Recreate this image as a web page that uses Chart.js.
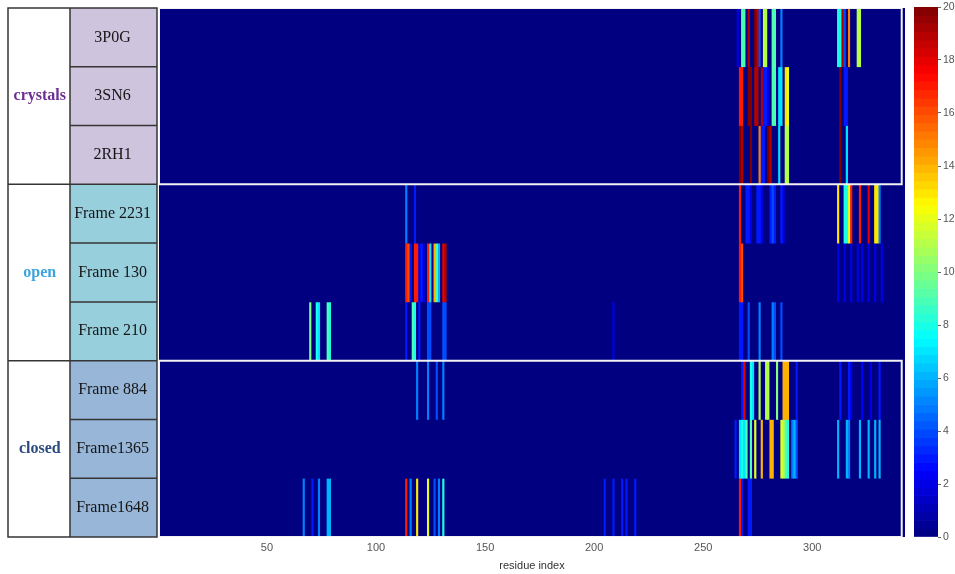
<!DOCTYPE html>
<html>
<head>
<meta charset="utf-8">
<script src="https://cdn.jsdelivr.net/npm/chart.js@4"></script>
<style>
    body { margin: 0; background: #fff; overflow: hidden; }
    #heat { position: absolute; left: 0; top: 0; }
    #cbar { position: absolute; left: 905px; top: 0; }
</style>
</head>
<body>
<canvas id="heat" width="905" height="574"></canvas>
<canvas id="cbar" width="50" height="574"></canvas>
<script>
const nResidues = 342;
const rowLabels = ['3P0G', '3SN6', '2RH1', 'Frame 2231', 'Frame 130', 'Frame 210', 'Frame 884', 'Frame1365', 'Frame1648'];
const groupLabels = ['crystals', 'open', 'closed'];
const groupOfRow = [0, 0, 0, 1, 1, 1, 2, 2, 2];
const groupCenterRows = [1, 4, 7];
const xTicks = [50, 100, 150, 200, 250, 300];
const cbarTicks = [0, 2, 4, 6, 8, 10, 12, 14, 16, 18, 20];

// [residue, value] pairs, every other residue is 0
const cells3P0G = [[266, 2], [268, 9], [269, 9], [271, 19], [274, 20], [275, 19], [276, 4], [278, 11], [279, 11], [282, 9],
    [283, 9], [286, 5], [312, 8], [313, 8], [314, 19], [315, 4], [317, 15], [321, 11], [322, 11]];
const cells3SN6 = [[267, 17], [268, 17], [271, 20], [272, 20], [274, 19], [275, 19], [277, 19], [278, 3], [279, 3], [280, 2],
    [282, 9], [283, 9], [285, 7], [286, 7], [288, 13], [289, 12], [313, 20], [315, 3], [316, 3]];
const cells2RH1 = [[267, 20], [268, 19], [272, 20], [276, 15], [277, 3], [278, 3], [280, 20], [281, 19], [285, 7],
    [288, 11], [289, 11], [313, 20], [316, 7]];
const cellsF2231 = [[114, 5], [118, 3], [267, 17], [270, 3], [271, 3], [272, 2], [275, 3], [276, 3], [277, 2], [281, 3],
    [282, 4], [283, 3], [286, 3], [287, 2], [312, 13], [315, 8], [316, 8], [317, 12], [318, 17], [322, 17], [326, 18],
    [329, 13], [330, 13], [331, 5]];
const cellsF130 = [[114, 17], [115, 16], [116, 3], [118, 17], [119, 17], [120, 2], [121, 3], [122, 2], [124, 17], [125, 7],
    [127, 14], [128, 9], [129, 6], [131, 18], [132, 19], [267, 17], [268, 16], [312, 2], [315, 2], [318, 2], [321, 2],
    [323, 2], [326, 2], [329, 2], [332, 2]];
const cellsF210 = [[70, 10], [73, 8], [74, 7], [78, 9], [79, 8], [114, 3], [117, 9], [118, 8], [120, 3], [124, 4], [125, 4],
    [131, 4], [132, 4], [209, 2], [267, 3], [268, 3], [271, 4], [276, 5], [282, 5], [283, 4], [286, 4]];
const cellsF884 = [[119, 5], [124, 5], [128, 4], [131, 5], [268, 3], [269, 18], [272, 8], [273, 7], [276, 11], [279, 11],
    [280, 11], [284, 10], [287, 14], [288, 14], [289, 14], [293, 3], [313, 3], [317, 3], [318, 2], [323, 2.5], [327, 2], [331, 3]];
const cellsF1365 = [[265, 3], [267, 7], [268, 8], [269, 7], [270, 9], [272, 9], [274, 12], [277, 14], [281, 14], [282, 14],
    [286, 12], [287, 11], [288, 9], [289, 8], [291, 5], [292, 6], [293, 4], [312, 6], [316, 6], [317, 5], [322, 6],
    [326, 6], [329, 6], [331, 6]];
const cellsF1648 = [[67, 5], [71, 3], [74, 5], [78, 6], [79, 6], [114, 17], [116, 5], [119, 13], [124, 12], [127, 4],
    [129, 5], [131, 8], [205, 3], [209, 3], [213, 3], [215, 3], [219, 3], [267, 17], [268, 3], [271, 3], [272, 3]];
const rowCells = [cells3P0G, cells3SN6, cells2RH1, cellsF2231, cellsF130, cellsF210, cellsF884, cellsF1365, cellsF1648];

const groupColors = ['#6b2f93', '#3da3dc', '#2d4b7e'];
const cellFill = ['#cec4dd', '#98cfdd', '#98b6d8'];
const serif = '"Liberation Serif", "Times New Roman", serif';
const sans = '"Liberation Sans", Arial, sans-serif';

function jet(v) {
    const t = Math.max(0, Math.min(1, v / 20));
    const c = x => Math.round(255 * Math.max(0, Math.min(1, x)));
    const r = c(Math.min(4 * t - 1.5, -4 * t + 4.5));
    const g = c(Math.min(4 * t - 0.5, -4 * t + 3.5));
    const b = c(Math.min(4 * t + 0.5, -4 * t + 2.5));
    return 'rgb(' + r + ',' + g + ',' + b + ')';
}

const heatDatasets = rowCells.map((cells, row) => {
    const values = new Array(nResidues).fill(0);
    cells.forEach(([res, val]) => { values[res - 1] = val; });
    return {
        type: 'bar',
        indexAxis: 'y',
        grouped: false,
        order: 2,
        data: values.map((val, k) => ({ x: [k + 0.5, k + 1.5], y: row, v: val })),
        backgroundColor: ctx => jet(ctx.raw.v),
        borderWidth: 0,
        barPercentage: 1,
        categoryPercentage: 1
    };
});

// white frames round the crystals and closed groups
const boxDatasets = [0, 2].map(g => {
    const first = groupOfRow.indexOf(g) - 0.5;
    const last = groupOfRow.lastIndexOf(g) + 0.5;
    const x0 = 0.5, x1 = nResidues - 1;
    return {
        type: 'line',
        order: 0,
        data: [{ x: x0, y: first }, { x: x1, y: first }, { x: x1, y: last }, { x: x0, y: last }, { x: x0, y: first }],
        borderColor: '#f2f2f2',
        borderWidth: 2,
        pointRadius: 0,
        fill: false,
        tension: 0
    };
});

const tablePlugin = {
    id: 'labelTable',
    beforeDraw(chart) {
        const { ctx, chartArea, scales: { y, yg } } = chart;
        ctx.save();
        ctx.fillStyle = jet(0);
        ctx.fillRect(chartArea.left, chartArea.top, chartArea.width, chartArea.height);

        const left = yg.left, mid = yg.right, right = y.right - 2;
        const top = y.getPixelForValue(-0.5), bottom = y.getPixelForValue(rowLabels.length - 0.5);
        ctx.fillStyle = '#fff';
        ctx.fillRect(left, top, right - left, bottom - top);
        rowLabels.forEach((_, i) => {
            const t = y.getPixelForValue(i - 0.5), b = y.getPixelForValue(i + 0.5);
            ctx.fillStyle = cellFill[groupOfRow[i]];
            ctx.fillRect(mid, t, right - mid, b - t);
        });

        ctx.strokeStyle = '#353535';
        ctx.lineWidth = 1.5;
        ctx.beginPath();
        rowLabels.forEach((_, i) => {
            if (i === 0) return;
            const t = y.getPixelForValue(i - 0.5);
            ctx.moveTo(groupOfRow[i] !== groupOfRow[i - 1] ? left : mid, t);
            ctx.lineTo(right, t);
        });
        ctx.moveTo(mid, top);
        ctx.lineTo(mid, bottom);
        ctx.rect(left, top, right - left, bottom - top);
        ctx.stroke();
        ctx.restore();
    }
};

new Chart(document.getElementById('heat'), {
    type: 'bar',
    data: { datasets: heatDatasets.concat(boxDatasets) },
    plugins: [tablePlugin],
    options: {
        responsive: false,
        animation: false,
        events: [],
        layout: { autoPadding: false, padding: { left: 8, top: 8, right: 0, bottom: 0 } },
        plugins: { legend: { display: false }, tooltip: { enabled: false } },
        scales: {
            x: {
                type: 'linear',
                min: 0.5,
                max: nResidues + 0.5,
                offset: false,
                afterBuildTicks: s => { s.ticks = xTicks.map(v => ({ value: v })); },
                afterFit: s => { s.height = 37; },
                grid: { display: false, tickLength: 0 },
                border: { display: false },
                ticks: { color: '#555', font: { family: sans, size: 11 }, padding: 4, maxRotation: 0 },
                title: { display: true, text: 'residue index', color: '#333', font: { family: sans, size: 11 }, padding: { top: 0, bottom: 1 } }
            },
            y: {
                type: 'linear',
                position: 'left',
                reverse: true,
                min: -0.5,
                max: rowLabels.length - 0.5,
                offset: false,
                weight: 0,
                afterBuildTicks: s => { s.ticks = rowLabels.map((_, i) => ({ value: i })); },
                afterFit: s => { s.width = 89; s.paddingTop = 0; s.paddingBottom = 0; },
                grid: { display: false, tickLength: 0 },
                border: { display: false },
                ticks: {
                    callback: v => rowLabels[v],
                    color: '#151515',
                    font: { family: serif, size: 16 },
                    crossAlign: 'center',
                    padding: 8,
                    autoSkip: false
                }
            },
            yg: {
                type: 'linear',
                position: 'left',
                reverse: true,
                min: -0.5,
                max: rowLabels.length - 0.5,
                offset: false,
                weight: 10,
                afterBuildTicks: s => { s.ticks = groupCenterRows.map(v => ({ value: v })); },
                afterFit: s => { s.width = 62; s.paddingTop = 0; s.paddingBottom = 0; },
                grid: { display: false, tickLength: 0 },
                border: { display: false },
                ticks: {
                    callback: (v, i) => groupLabels[i],
                    color: ctx => groupColors[ctx.index],
                    font: { family: serif, size: 16, weight: 'bold' },
                    crossAlign: 'center',
                    padding: 4,
                    autoSkip: false
                }
            }
        }
    }
});

// colour bar
const cbarLevels = 64;
const cbarStep = 20 / cbarLevels;
new Chart(document.getElementById('cbar'), {
    type: 'bar',
    data: {
        labels: ['c'],
        datasets: [{
            grouped: false,
            data: Array.from({ length: cbarLevels }, (_, i) => ({ x: 'c', y: [i * cbarStep, (i + 1) * cbarStep], v: (i + 0.5) * cbarStep })),
            backgroundColor: ctx => jet(ctx.raw.v),
            borderWidth: 0,
            barPercentage: 1,
            categoryPercentage: 1
        }]
    },
    options: {
        responsive: false,
        animation: false,
        events: [],
        layout: { autoPadding: false, padding: { left: 9, top: 7, right: 0, bottom: 37 } },
        plugins: { legend: { display: false }, tooltip: { enabled: false } },
        scales: {
            x: { display: false },
            y: {
                position: 'right',
                min: 0,
                max: 20,
                afterBuildTicks: s => { s.ticks = cbarTicks.map(v => ({ value: v })); },
                afterFit: s => { s.width = 17; s.paddingTop = 0; s.paddingBottom = 0; },
                grid: { display: true, drawOnChartArea: false, tickLength: 3, color: '#666' },
                border: { display: false },
                ticks: { color: '#555', font: { family: sans, size: 10.5 }, padding: 2 }
            }
        }
    }
});
</script>
</body>
</html>
